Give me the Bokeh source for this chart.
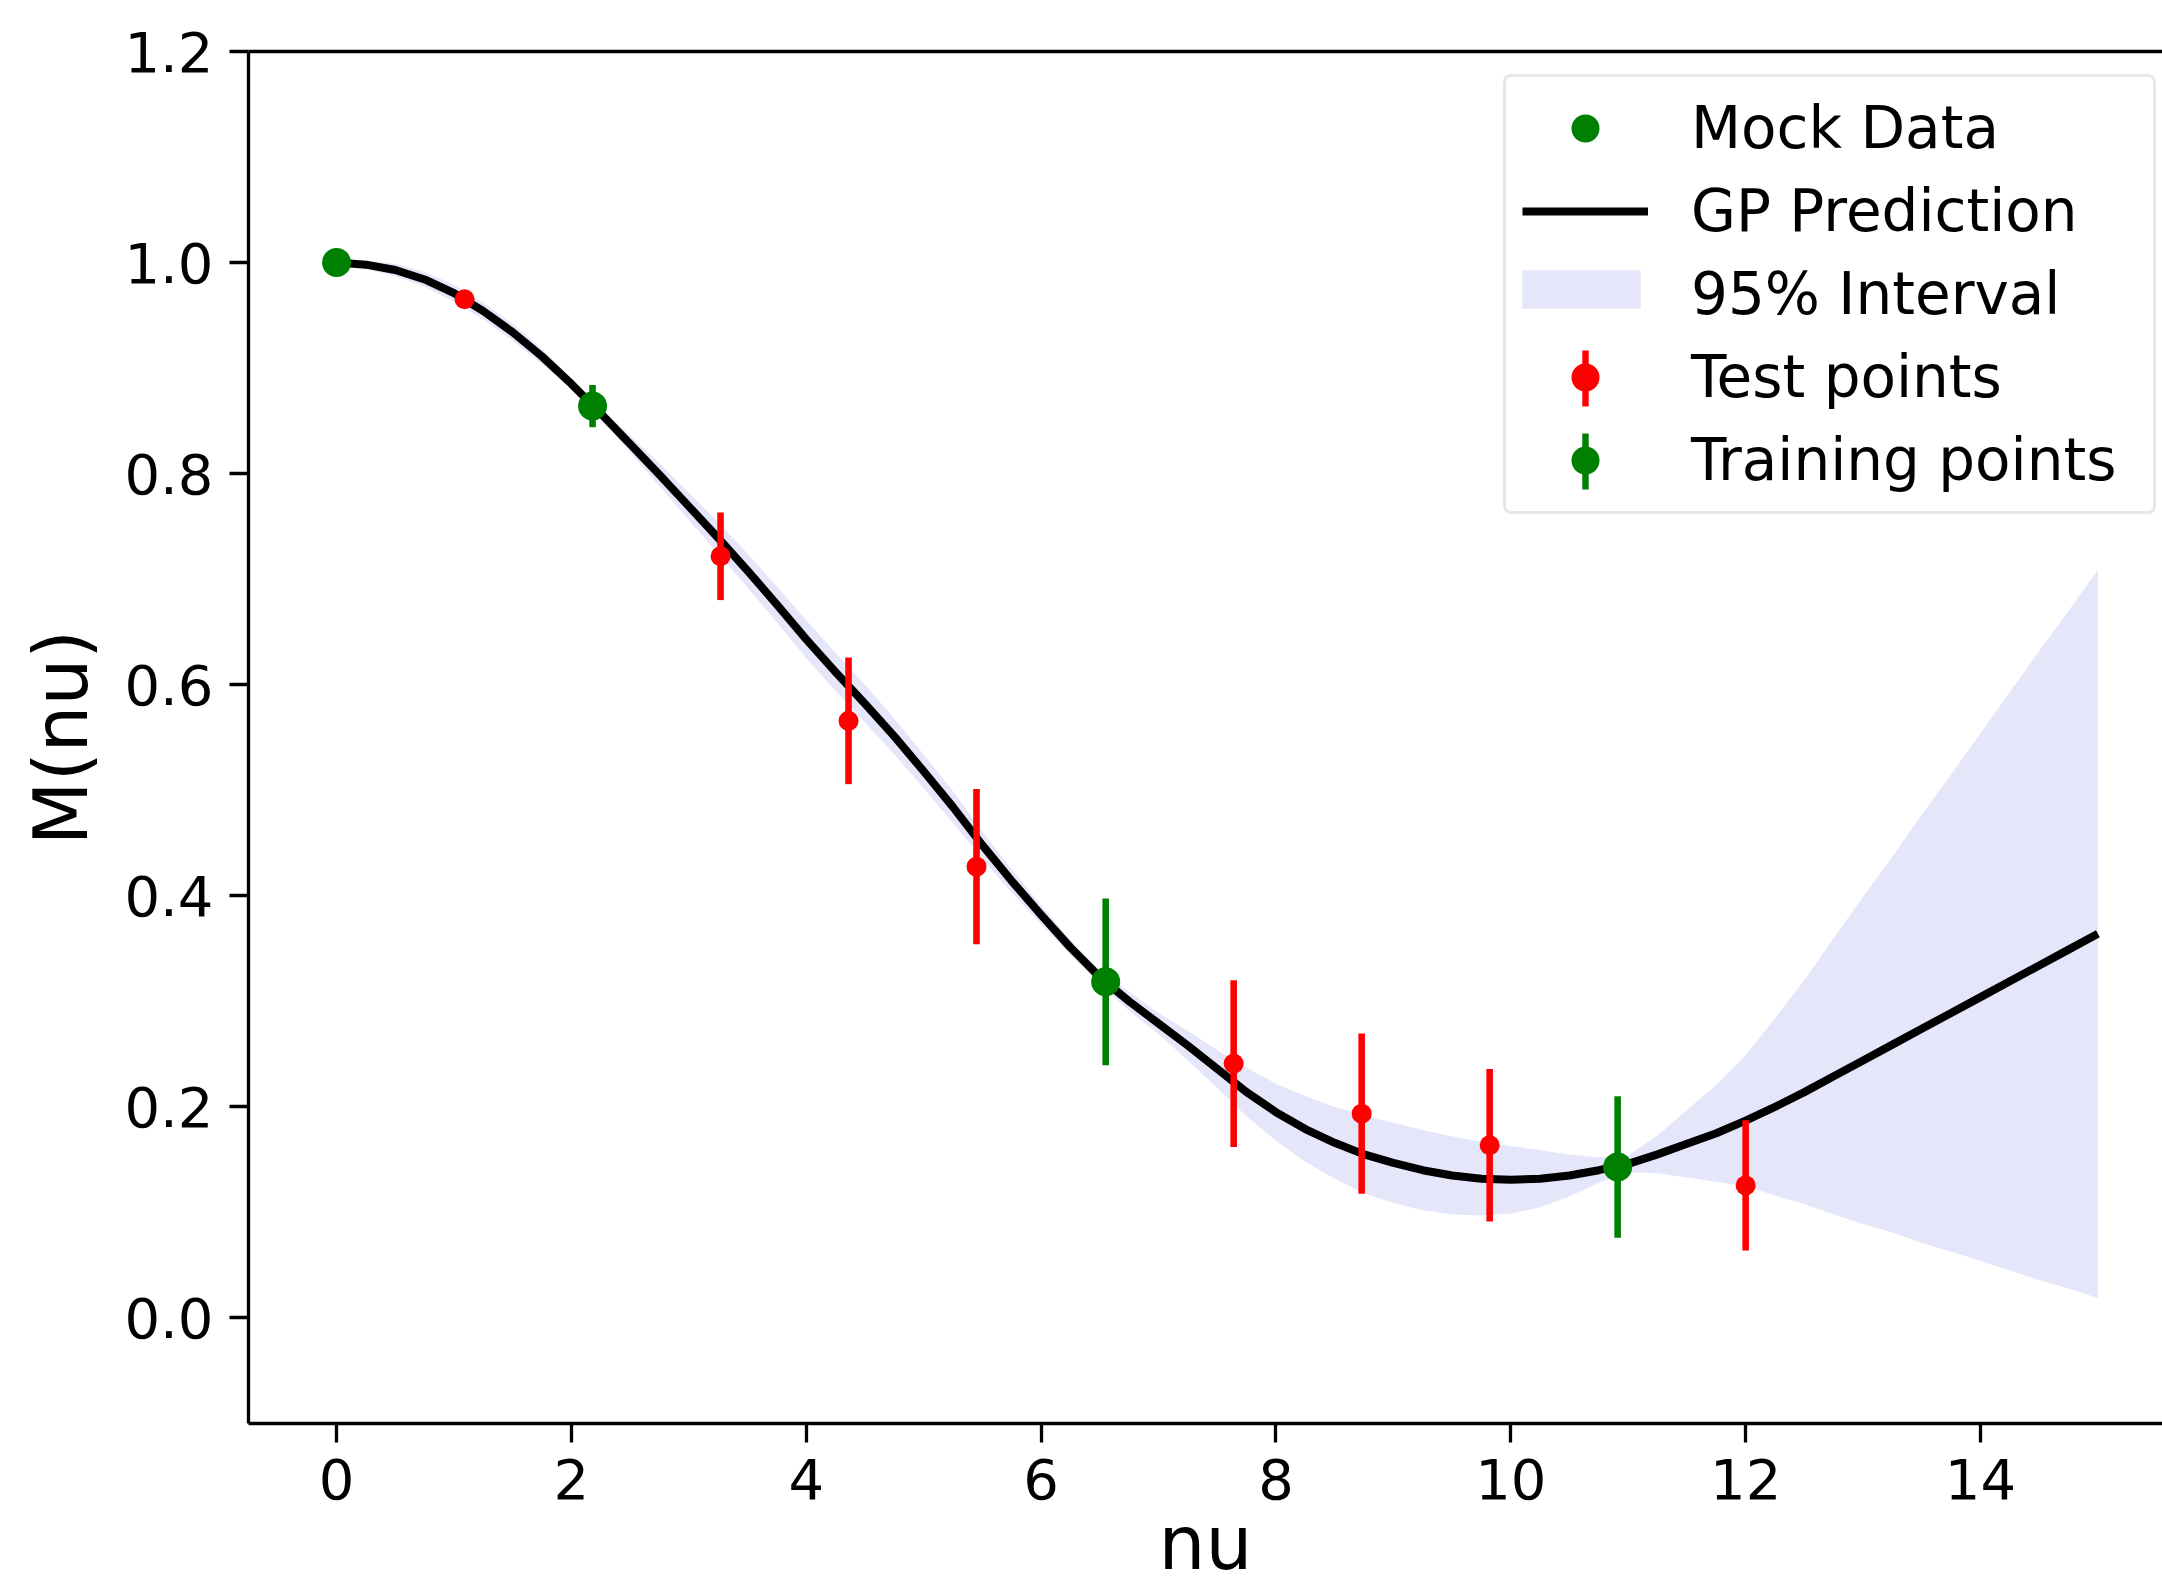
from bokeh.plotting import figure
from bokeh.models import Range1d, LinearAxis, FixedTicker, Legend, LegendItem
from bokeh.embed import file_html
from bokeh.resources import INLINE

# ---------------- data ----------------
x_grid = [0.00, 0.25, 0.50, 0.75, 1.00, 1.25, 1.50, 1.75, 2.00, 2.25, 2.50, 2.75,
          3.00, 3.25, 3.50, 3.75, 4.00, 4.25, 4.50, 4.75, 5.00, 5.25, 5.50, 5.75,
          6.00, 6.25, 6.50, 6.75, 7.00, 7.25, 7.50, 7.75, 8.00, 8.25, 8.50, 8.75,
          9.00, 9.25, 9.50, 9.75, 10.00, 10.25, 10.50, 10.75, 11.00, 11.25, 11.50,
          11.75, 12.00, 12.25, 12.50, 12.75, 13.00, 13.25, 13.50, 13.75, 14.00,
          14.25, 14.50, 14.75, 15.00]
gp_mean = [1.000, 0.998, 0.993, 0.984, 0.971, 0.954, 0.934, 0.911, 0.885, 0.857, 0.828, 0.799,
           0.769, 0.739, 0.708, 0.676, 0.643, 0.612, 0.582, 0.551, 0.518, 0.484, 0.448, 0.414,
           0.382, 0.351, 0.323, 0.300, 0.279, 0.258, 0.236, 0.214, 0.195, 0.179, 0.166, 0.155,
           0.147, 0.140, 0.135, 0.132, 0.131, 0.132, 0.135, 0.140, 0.146, 0.155, 0.165,
           0.175, 0.187, 0.200, 0.214, 0.229, 0.244, 0.259, 0.274, 0.289, 0.304,
           0.319, 0.334, 0.349, 0.364]
band_lower = [0.998, 0.994, 0.987, 0.977, 0.963, 0.946, 0.926, 0.904, 0.880, 0.852, 0.820, 0.788,
              0.756, 0.724, 0.692, 0.659, 0.625, 0.594, 0.564, 0.534, 0.502, 0.469, 0.435, 0.403,
              0.373, 0.344, 0.317, 0.291, 0.269, 0.244, 0.218, 0.191, 0.168, 0.148, 0.132, 0.118,
              0.109, 0.102, 0.098, 0.097, 0.099, 0.105, 0.115, 0.128, 0.138, 0.137, 0.133,
              0.129, 0.125, 0.116, 0.108, 0.098, 0.089, 0.081, 0.071, 0.063, 0.054,
              0.045, 0.036, 0.028, 0.019]
band_upper = [1.002, 1.002, 0.999, 0.991, 0.979, 0.962, 0.942, 0.918, 0.890, 0.862, 0.836, 0.810,
              0.782, 0.754, 0.724, 0.693, 0.661, 0.630, 0.600, 0.568, 0.534, 0.499, 0.461, 0.425,
              0.391, 0.358, 0.329, 0.309, 0.289, 0.272, 0.254, 0.237, 0.222, 0.210, 0.200, 0.192,
              0.185, 0.178, 0.172, 0.167, 0.163, 0.159, 0.155, 0.152, 0.154, 0.173, 0.197,
              0.221, 0.249, 0.284, 0.320, 0.360, 0.399, 0.437, 0.477, 0.515, 0.554,
              0.593, 0.632, 0.670, 0.709]

x_train = [0.0, 2.18, 6.55, 10.91]
y_train = [1.0, 0.864, 0.3185, 0.143]
err_train = [0.004, 0.02, 0.079, 0.067]

x_test = [1.09, 3.27, 4.36, 5.45, 7.64, 8.73, 9.82, 12.0]
y_test = [0.9653, 0.7217, 0.5658, 0.4276, 0.241, 0.1936, 0.1636, 0.1256]
err_test = [0.006, 0.0415, 0.06, 0.0735, 0.079, 0.0759, 0.0722, 0.0617]

x_ticks = [0, 2, 4, 6, 8, 10, 12, 14]
x_tick_labels = ["0", "2", "4", "6", "8", "10", "12", "14"]
y_ticks = [0.0, 0.2, 0.4, 0.6, 0.8, 1.0, 1.2]
y_tick_labels = ["0.0", "0.2", "0.4", "0.6", "0.8", "1.0", "1.2"]

legend_labels = ["Mock Data", "GP Prediction", "95% Interval", "Test points", "Training points"]
x_label = "nu"
y_label = "M(nu)"

# ---------------- figure ----------------
FONT = "DejaVu Sans"
GREEN = "#008000"
RED = "#ff0000"
BAND = "#e6e6fa"

p = figure(width=2162, height=1588, output_backend="svg", toolbar_location=None,
           x_range=Range1d(-0.75, 15.55), y_range=Range1d(-0.1, 1.2),
           min_border_left=248, min_border_right=0, min_border_top=51, min_border_bottom=165)
p.background_fill_color = "white"
p.border_fill_color = "white"
p.outline_line_color = None
p.xgrid.visible = False
p.ygrid.visible = False

for ax in (p.xaxis[0], p.yaxis[0]):
    ax.axis_line_color = "black"
    ax.axis_line_width = 3.3
    ax.major_tick_line_color = "black"
    ax.major_tick_line_width = 3.3
    ax.major_tick_in = 0
    ax.major_tick_out = 19
    ax.minor_tick_line_color = None
    ax.major_label_text_font = FONT
    ax.major_label_text_font_size = "56px"
    ax.major_label_text_color = "black"
    ax.axis_label_text_font = FONT
    ax.axis_label_text_font_size = "74px"
    ax.axis_label_text_font_style = "normal"
    ax.axis_label_text_color = "black"

p.xaxis.ticker = FixedTicker(ticks=x_ticks)
p.xaxis.major_label_overrides = {t: s for t, s in zip(x_ticks, x_tick_labels)}
p.yaxis.ticker = FixedTicker(ticks=y_ticks)
p.yaxis.major_label_overrides = {t: s for t, s in zip(y_ticks, y_tick_labels)}
p.xaxis.axis_label = x_label
p.yaxis.axis_label = y_label
p.xaxis.major_label_standoff = 16
p.xaxis.axis_label_standoff = -2
p.yaxis.major_label_standoff = 16
p.yaxis.axis_label_standoff = 17

top_axis = LinearAxis(ticker=FixedTicker(ticks=[]), axis_line_color="black", axis_line_width=3.3,
                      major_tick_line_color=None, minor_tick_line_color=None,
                      major_label_text_font_size="0px")
p.add_layout(top_axis, "above")

# ---------------- glyphs ----------------
band_r = p.varea(x=x_grid, y1=band_lower, y2=band_upper, fill_color=BAND, fill_alpha=1.0)
band_edge_r = p.line(x=x_grid, y=band_upper, line_alpha=0)   # invisible edge, legend row holder
line_r = p.line(x=x_grid, y=gp_mean, line_color="black", line_width=8, line_join="round")
mock_r = p.scatter(x=x_train, y=y_train, marker="circle", size=29,
                   fill_color=GREEN, line_color=None)

bar_w = 0.056
train_bar_r = p.vbar(x=x_train, top=[y + e for y, e in zip(y_train, err_train)],
                     bottom=[y - e for y, e in zip(y_train, err_train)], width=bar_w,
                     fill_color=GREEN, line_color=None)
train_dot_r = p.scatter(x=x_train, y=y_train, marker="circle", size=20,
                        fill_color=GREEN, line_color=None)
test_bar_r = p.vbar(x=x_test, top=[y + e for y, e in zip(y_test, err_test)],
                    bottom=[y - e for y, e in zip(y_test, err_test)], width=bar_w,
                    fill_color=RED, line_color=None)
test_dot_r = p.scatter(x=x_test, y=y_test, marker="circle", size=20,
                       fill_color=RED, line_color=None)

# ---------------- legend ----------------
PAD, GH, SP = 16, 70, 13
leg_left, leg_top = 1503, 80
frame_left, frame_bottom = 249, 1423
leg_h = 2 * PAD + 5 * GH + 4 * SP

legA = Legend(items=[
    LegendItem(label=legend_labels[0], renderers=[mock_r]),
    LegendItem(label=legend_labels[1], renderers=[line_r]),
    LegendItem(label=legend_labels[2], renderers=[band_edge_r]),
    LegendItem(label=legend_labels[3], renderers=[test_dot_r]),
    LegendItem(label=legend_labels[4], renderers=[train_dot_r]),
], location=(leg_left - 248, frame_bottom - (leg_top + leg_h)))
legA.padding = PAD
legA.spacing = SP
legA.glyph_width = 126
legA.glyph_height = GH
legA.label_standoff = 43
legA.label_width = 446
legA.label_height = GH
legA.label_text_font = FONT
legA.label_text_font_size = "58px"
legA.label_text_color = "black"
legA.background_fill_color = "white"
legA.background_fill_alpha = 0.8
legA.border_line_color = "#d0d0d0"
legA.border_line_width = 3
legA.margin = 0
try:
    legA.border_radius = 8
except Exception:
    pass

glyph_center = 1586
# error-bar glyphs for the last two rows (narrow glyph box, no border -> no padding)
legB = Legend(items=[
    LegendItem(label="", renderers=[test_bar_r]),
    LegendItem(label="", renderers=[train_bar_r]),
], location=(glyph_center - 4 - frame_left, 927))
legB.padding = 0
legB.spacing = SP
legB.glyph_width = 8
legB.glyph_height = GH
legB.label_height = GH
legB.label_width = 1
legB.label_standoff = 0
legB.label_text_font_size = "1px"
legB.background_fill_alpha = 0
legB.border_line_color = None
legB.margin = 0

# flat patch for the interval row
legC = Legend(items=[LegendItem(label="", renderers=[band_r])],
              location=(1508 - frame_left, frame_bottom - 313))
legC.padding = 0
legC.glyph_width = 148
legC.glyph_height = 48
legC.label_height = 48
legC.label_width = 1
legC.label_standoff = 0
legC.label_text_font_size = "1px"
legC.background_fill_alpha = 0
legC.border_line_color = None
legC.margin = 0

p.add_layout(legA)
p.add_layout(legC)
p.add_layout(legB)

open("out.html", "w").write(file_html(p, INLINE))
